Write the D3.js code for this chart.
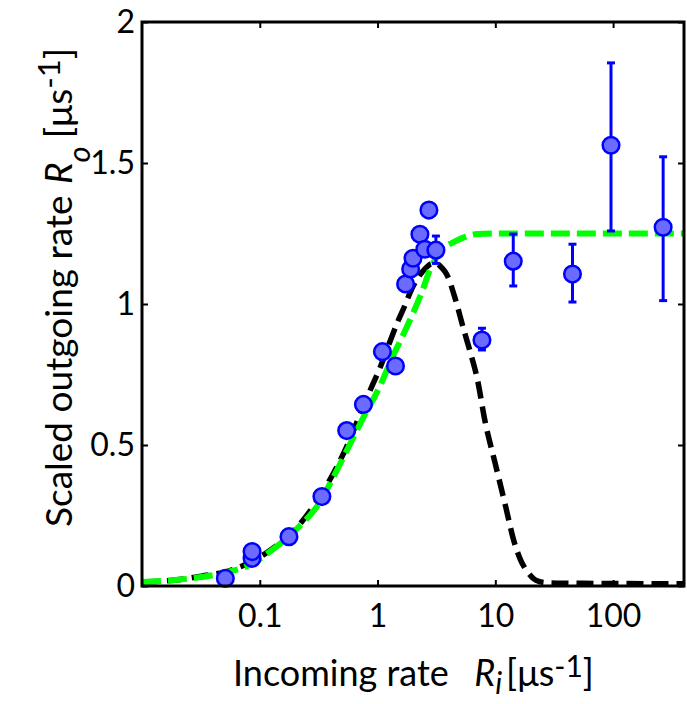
<!DOCTYPE html>
<html>
<head>
<meta charset="utf-8">
<script src="https://cdn.jsdelivr.net/npm/d3@7"></script>
<style>
  body { margin: 0; background: #fff; }
  text { font-family: Lato, "Open Sans", sans-serif; fill: #000; white-space: pre; }
</style>
</head>
<body>
<svg id="chart" width="687" height="704"></svg>
<script>
// Axis ticks
const xTicks = [0.1, 1, 10, 100];
const xTickLabels = ["0.1", "1", "10", "100"];
const yTicks = [0, 0.5, 1, 1.5, 2];
const yTickLabels = ["0", "0.5", "1", "1.5", "2"];

// Measured rates (incoming R_i, scaled outgoing R_o) and error bar limits
const pointRi = [0.051, 0.086, 0.086, 0.177, 0.337, 0.547, 0.759, 1.10, 1.42, 1.73, 1.91, 2.00, 2.29, 2.52, 2.73, 3.13, 7.7, 14.2, 45.2, 96, 266];
const pointRo = [0.027, 0.098, 0.122, 0.175, 0.317, 0.551, 0.644, 0.831, 0.780, 1.071, 1.124, 1.162, 1.247, 1.194, 1.333, 1.191, 0.872, 1.152, 1.106, 1.563, 1.272];
const errLow  = [null, null, null, null, null, null, null, null, null, null, null, null, null, null, null, 1.144, 0.837, 1.064, 1.007, 1.259, 1.012];
const errHigh = [null, null, null, null, null, null, null, null, null, null, null, null, null, null, null, 1.241, 0.914, 1.248, 1.212, 1.855, 1.522];

// Saturating model (green)
const satRi = [0.01, 0.019, 0.032, 0.054, 0.089, 0.12, 0.215, 0.32, 0.41, 0.54, 0.74, 1.04, 1.34, 1.60, 1.95, 2.38, 2.78, 3.39, 4.55, 5.54, 7.0, 11, 30, 100, 400];
const satRo = [0.014, 0.021, 0.032, 0.050, 0.082, 0.12, 0.21, 0.294, 0.376, 0.475, 0.589, 0.706, 0.812, 0.879, 0.957, 1.043, 1.12, 1.184, 1.222, 1.238, 1.248, 1.25, 1.25, 1.25, 1.25];

// Peaked model (black)
const peakRi = [0.01, 0.019, 0.032, 0.054, 0.12, 0.215, 0.41, 0.54, 0.74, 0.906, 1.04, 1.27, 1.48, 1.70, 1.95, 2.29, 2.57, 2.84, 3.13, 3.52, 3.89, 4.55, 5.32, 6.12, 7.0, 8.2, 10.0, 12.2, 14.3, 16.4, 18.8, 22.0, 26.7, 40, 80, 400];
const peakRo = [0.014, 0.021, 0.035, 0.053, 0.124, 0.216, 0.39, 0.489, 0.627, 0.713, 0.77, 0.865, 0.936, 0.993, 1.053, 1.103, 1.128, 1.142, 1.145, 1.128, 1.103, 1.021, 0.918, 0.83, 0.738, 0.582, 0.433, 0.284, 0.163, 0.092, 0.05, 0.021, 0.012, 0.01, 0.009, 0.008];

const svg = d3.select("#chart");
const plot = { left: 142, right: 684, top: 22, bottom: 586 };

const x = d3.scaleLog().domain([0.01, 400]).range([plot.left, plot.right]);
const y = d3.scaleLinear().domain([0, 2]).range([plot.bottom, plot.top]);

// Curves
const line = d3.line().x(d => x(d[0])).y(d => y(d[1])).curve(d3.curveMonotoneX);

svg.append("path")
  .attr("d", line(d3.zip(peakRi, peakRo)))
  .attr("fill", "none")
  .attr("stroke", "#000")
  .attr("stroke-width", 5.5)
  .attr("stroke-dasharray", "17,8");

svg.append("path")
  .attr("d", line(d3.zip(satRi, satRo)))
  .attr("fill", "none")
  .attr("stroke", "#00ff00")
  .attr("stroke-width", 6)
  .attr("stroke-dasharray", "19,7");

// Error bars
const bars = svg.append("g").attr("stroke", "#0000ff").attr("stroke-width", 3);
pointRi.forEach((ri, i) => {
  if (errLow[i] === null) return;
  const cx = x(ri);
  bars.append("line").attr("x1", cx).attr("x2", cx).attr("y1", y(errLow[i])).attr("y2", y(errHigh[i]));
  bars.append("line").attr("x1", cx - 4).attr("x2", cx + 4).attr("y1", y(errLow[i])).attr("y2", y(errLow[i]));
  bars.append("line").attr("x1", cx - 4).attr("x2", cx + 4).attr("y1", y(errHigh[i])).attr("y2", y(errHigh[i]));
});

// Markers
svg.append("g").selectAll("circle")
  .data(d3.zip(pointRi, pointRo))
  .join("circle")
  .attr("cx", d => x(d[0]))
  .attr("cy", d => y(d[1]))
  .attr("r", 8.3)
  .attr("fill", "#6b6bff")
  .attr("stroke", "#0000ff")
  .attr("stroke-width", 2.5);

// Axes with inward ticks
function styleAxis(g) {
  g.select(".domain").remove();
  g.selectAll(".tick line").attr("stroke", "#000").attr("stroke-width", 2);
  g.selectAll(".tick text").style("font-size", "32px").attr("fill", "#000");
}

svg.append("g")
  .attr("transform", `translate(0,${plot.bottom})`)
  .call(d3.axisBottom(x).tickValues(xTicks).tickFormat((d, i) => xTickLabels[i])
    .tickSizeInner(-6).tickSizeOuter(0).tickPadding(18))
  .call(styleAxis);

svg.append("g")
  .attr("transform", `translate(0,${plot.top})`)
  .call(d3.axisTop(x).tickValues(xTicks).tickFormat("").tickSizeInner(-6).tickSizeOuter(0))
  .call(styleAxis);

svg.append("g")
  .attr("transform", `translate(${plot.left},0)`)
  .call(d3.axisLeft(y).tickValues(yTicks).tickFormat((d, i) => yTickLabels[i])
    .tickSizeInner(-6).tickSizeOuter(0).tickPadding(7))
  .call(styleAxis);

svg.append("g")
  .attr("transform", `translate(${plot.right},0)`)
  .call(d3.axisRight(y).tickValues(yTicks).tickFormat("").tickSizeInner(-6).tickSizeOuter(0))
  .call(styleAxis);

// Frame
svg.append("rect")
  .attr("x", plot.left).attr("y", plot.top)
  .attr("width", plot.right - plot.left).attr("height", plot.bottom - plot.top)
  .attr("fill", "none").attr("stroke", "#000").attr("stroke-width", 3);

// Axis titles: text, italic symbol with subscript, then unit with superscript
function title(g, o) {
  const t = g.append("text").style("font-size", o.size + "px");
  t.append("tspan").text(o.base);
  t.append("tspan").attr("dx", o.gap).style("font-style", "italic").text(o.sym);
  t.append("tspan").style("font-style", "italic").style("font-size", o.small + "px")
    .attr("dy", o.subDy).text(o.sub);
  t.append("tspan").attr("dy", -o.subDy).attr("dx", o.unitGap).text("[\u03BCs");
  t.append("tspan").style("font-size", o.small + "px").attr("dy", -o.supDy).text("-1");
  t.append("tspan").attr("dy", o.supDy).text("]");
  return t;
}

title(svg.append("g").attr("transform", "translate(233,686)"),
  { base: "Incoming rate  ", sym: "R", sub: "i", size: 36, small: 30, gap: 7, subDy: 8, unitGap: 4, supDy: 9 });
title(svg.append("g").attr("transform", "translate(72,527) rotate(-90)"),
  { base: "Scaled outgoing rate ", sym: "R", sub: "o", size: 37, small: 31, gap: 2, subDy: 18, unitGap: 8, supDy: 12 });
</script>
</body>
</html>
